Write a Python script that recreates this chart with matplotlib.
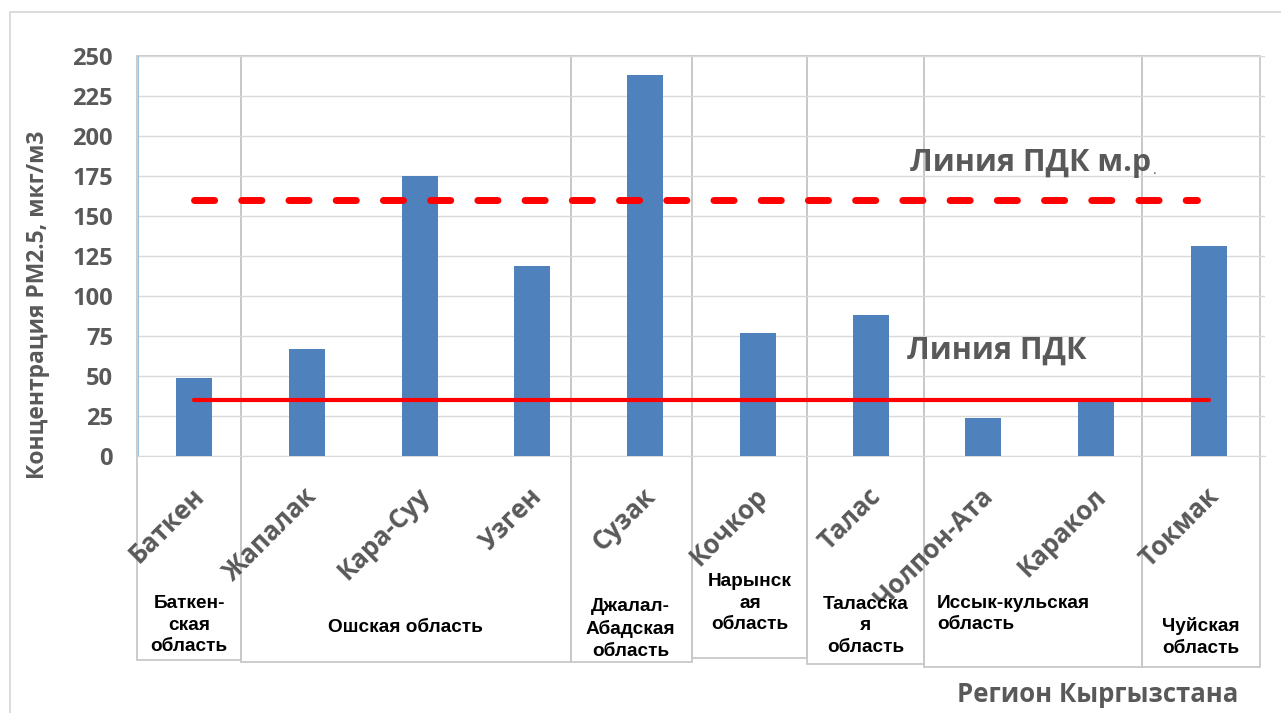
import matplotlib
matplotlib.use("Agg")
import matplotlib.pyplot as plt
import matplotlib.transforms as mtransforms
from matplotlib.patches import Rectangle

# PM2.5 by city
cities = ["Баткен", "Жапалак", "Кара-Суу", "Узген", "Сузак", "Кочкор",
          "Талас", "Чолпон-Ата", "Каракол", "Токмак"]
pm25 = [49, 67, 175, 119, 238, 77, 88, 24, 36, 131]

pdk = 35        # среднесуточная ПДК
pdk_mr = 160    # максимально разовая ПДК

# oblast groups: (label, left edge, right edge) in category units
regions = ["Баткен-\nская\nобласть", "Ошская область", "Джалал-\nАбадская\nобласть",
           "Нарынск\nая\nобласть", "Таласска\nя\nобласть",
           "Иссык-кульская\nобласть", "Чуйская\nобласть"]
region_edges = [-0.51, 0.414, 3.34, 4.42, 5.44, 6.47, 8.41, 9.46]

GRAY = "#595959"
W, H = 1281, 713

fig = plt.figure(figsize=(W / 100, H / 100), dpi=100)
ax = fig.add_axes([138 / W, 1 - 456 / H, 1127 / W, 400 / H])

x = list(range(len(cities)))
ax.bar(x, pm25, width=0.32, color="#4f81bd", zorder=3)

ax.plot([x[0], x[-1]], [pdk, pdk], color="#ff0000", lw=3, zorder=4,
        solid_capstyle="round")
ax.plot([x[0], x[-1] - 0.1], [pdk_mr, pdk_mr], color="#ff0000", lw=5, zorder=4,
        dashes=(2.9, 3.9), dash_capstyle="round")

t = ax.text(6.35, 183, "Линия ПДК м.р", fontsize=22, fontweight="bold",
            color=GRAY, family="Open Sans", ha="left", va="center")
ax.annotate(".", xy=(1, 0), xycoords=t, xytext=(1, 0), textcoords="offset points",
            fontsize=10, color=GRAY, family="Open Sans", ha="left", va="bottom")
ax.text(6.32, 66, "Линия ПДК", fontsize=22, fontweight="bold",
        color=GRAY, family="Open Sans", ha="left", va="center")

ax.set_xlim(-0.5, 9.5)
ax.set_ylim(0, 250)
ax.set_yticks(range(0, 251, 25))
ax.grid(axis="y", color="#d9d9d9", lw=1, zorder=0)
ax.tick_params(length=0)
ax.tick_params(axis="y", pad=18, labelsize=17, labelcolor=GRAY)
for lab in ax.get_yticklabels():
    lab.set_fontweight("bold")
    lab.set_family("Open Sans")

ax.set_xticks(x)
ax.set_xticklabels(cities, rotation=45, ha="right", va="center",
                   rotation_mode="anchor", fontsize=18.5, fontweight="bold",
                   color=GRAY, family="Open Sans")
ax.tick_params(axis="x", pad=26)
shift = mtransforms.ScaledTranslation(6 / 100, 0, fig.dpi_scale_trans)
for lab in ax.get_xticklabels():
    lab.set_transform(lab.get_transform() + shift)

for side in ["top", "right"]:
    ax.spines[side].set_visible(False)
ax.spines["bottom"].set_color("#d9d9d9")
ax.spines["left"].set_color("#9dc3e6")

ax.set_ylabel("Концентрация PM2.5, мкг/м3", fontsize=16.5, fontweight="bold",
              color=GRAY, family="Open Sans")
ax.yaxis.set_label_coords(-0.078, 0.3775)

# oblast boxes below and across the plot
trans = mtransforms.blended_transform_factory(ax.transData, ax.transAxes)
box_bottoms = [660, 662, 662, 658, 664, 667, 667]
for i in range(len(regions)):
    x0, x1 = region_edges[i], region_edges[i + 1]
    yb = (456 - box_bottoms[i]) / 400
    ax.add_patch(Rectangle((x0, yb), x1 - x0, 1 - yb, transform=trans,
                           fill=False, edgecolor="#c8c8c8", lw=1.3,
                           clip_on=False, zorder=1))

label_x = [-0.047, 1.87, 3.87, 4.93, 5.96, 6.59, 8.93]
label_y = [625, 627, 629, 603, 626, 614, 637]
for i, txt in enumerate(regions):
    ha = "left" if i == 5 else "center"
    ax.text(label_x[i], (456 - label_y[i]) / 400, txt, transform=trans,
            ha=ha, va="center", multialignment=ha, fontsize=13.7,
            fontweight="bold", family="Liberation Sans", color="black",
            linespacing=1.35)

fig.text(1098 / W, 1 - 695 / H, "Регион Кыргызстана", fontsize=18.5,
         fontweight="bold", color=GRAY, family="Open Sans",
         ha="center", va="center")

# chart frame
fig.patches.append(Rectangle((10 / W, -0.1), 1.2, 1 - 12 / H + 0.1,
                             transform=fig.transFigure, fill=False,
                             edgecolor="#d9d9d9", lw=1.3))

fig.savefig("out.png", dpi=100)
